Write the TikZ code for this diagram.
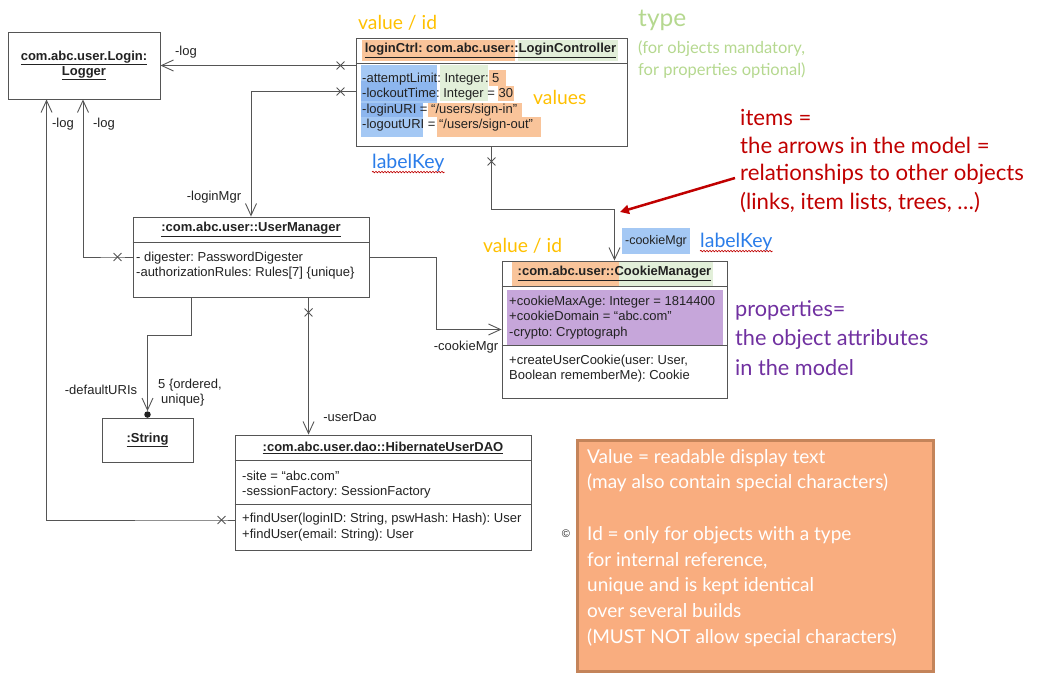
\documentclass[tikz,border=0pt]{standalone}
\usepackage{fontspec}
\setmainfont{Liberation Sans}
\newfontfamily\annot{Lato}
\usetikzlibrary{arrows.meta,calc,shapes.misc,decorations.pathmorphing}
\definecolor{lnc}{HTML}{555555}
\definecolor{umltext}{HTML}{222222}
\definecolor{hlor}{HTML}{F9C49A}
\definecolor{hlgr}{HTML}{E2EFD9}
\definecolor{hlbl}{HTML}{A4C8F4}
\definecolor{hlbl2}{HTML}{8DB6EE}
\definecolor{hlpu}{HTML}{C6A6DA}
\definecolor{tyel}{HTML}{FFC000}
\definecolor{tgrn}{HTML}{B5D88F}
\definecolor{tblu}{HTML}{2B7DE9}
\definecolor{tred}{HTML}{C00000}
\definecolor{tpur}{HTML}{7030A0}
\definecolor{notefill}{HTML}{F9AD7F}
\definecolor{notedraw}{HTML}{C4845A}
\begin{document}
\frenchspacing
\begin{tikzpicture}[x=1pt,y=-1pt,
  box/.style={draw=lnc, line width=0.9pt, fill=white, inner sep=0pt, rectangle},
  conn/.style={draw=lnc, line width=0.9pt},
  arr/.style={-{Straight Barb[length=12pt,width=11pt,line width=0.9pt]}},
  xmark/.style={cross out, draw=lnc, line width=0.9pt, minimum size=7pt, inner sep=0pt},
  uml/.style={font=\fontsize{13}{15.3}\selectfont, text=umltext, inner sep=0pt, align=left, anchor=north west},
  umltitle/.style={font=\fontsize{13}{15.3}\selectfont\bfseries, text=umltext, inner sep=0pt, align=center},
  lbl/.style={font=\fontsize{13}{15}\selectfont, text=umltext, inner sep=0pt},
  ann/.style={inner sep=0pt, anchor=west},
  sep/.style={draw=lnc, line width=0.9pt}
]
\useasboundingbox (0,0) rectangle (1039,688);

% ---------- boxes ----------
\node[box, minimum width=152pt, minimum height=67pt] (logger) at (84,65.5) {};
\node[box, minimum width=271pt, minimum height=108pt] (lc) at (491.5,92) {};
\node[box, minimum width=236pt, minimum height=80pt] (um) at (251,257) {};
\node[box, minimum width=225pt, minimum height=137pt] (cm) at (614.5,329.5) {};
\node[box, minimum width=91pt, minimum height=44pt] (str) at (147.5,440) {};
\node[box, minimum width=296pt, minimum height=115pt] (dao) at (383,492.5) {};

% ---------- highlights ----------
\fill[hlor] (362,40) rectangle (515,61);
\fill[hlgr] (518,40) rectangle (618,61);
\fill[hlbl] (361,65) rectangle (437,103);
\fill[hlbl] (361,103) rectangle (423,137);
\fill[hlbl2] (361,81) rectangle (437,101);
\fill[hlbl2] (361,103) rectangle (423,117);
\fill[hlgr] (440,65) rectangle (488,101);
\fill[hlor] (489,70) rectangle (506,86);
\fill[hlor] (498,86) rectangle (514,101);
\fill[hlor] (428,103) rectangle (522,117);
\fill[hlor] (437,117) rectangle (541,137);
\fill[hlor] (512,262) rectangle (619,286);
\fill[hlgr] (619,262) rectangle (713,286);
\fill[hlpu] (507,290) rectangle (723,346);

% ---------- separators ----------
\draw[sep] ($(lc.north west)+(0,26)$) -- ($(lc.north east)+(0,26)$);
\draw[sep] ($(um.north west)+(0,26)$) -- ($(um.north east)+(0,26)$);
\draw[sep] ($(cm.north west)+(0,26)$) -- ($(cm.north east)+(0,26)$);
\draw[sep] ($(cm.north west)+(0,85)$) -- ($(cm.north east)+(0,85)$);
\draw[sep] ($(dao.north west)+(0,26)$) -- ($(dao.north east)+(0,26)$);
\draw[sep] ($(dao.north west)+(0,70)$) -- ($(dao.north east)+(0,70)$);

% ---------- UML texts ----------
\node[umltitle] (loggerT) at (logger.center) {\underline{com.abc.user.Login:}\\\underline{Logger}};
\node[umltitle] (lcT) at ($(lc.north)+(-1,13)$) {\underline{loginCtrl: com.abc.user::LoginController}};
\node[uml] (lcA) at (362,73) {-attemptLimit: Integer: 5\\-lockoutTime: Integer = 30\\-loginURI = “/users/sign-in”\\-logoutURI = “/users/sign-out”};
\node[umltitle] (umT) at ($(um.north)+(0,13)$) {\underline{:com.abc.user::UserManager}};
\node[uml] (umA) at (136,252) {- digester: PasswordDigester\\-authorizationRules: Rules[7] \{unique\}};
\node[umltitle] (cmT) at ($(cm.north)+(0,13)$) {\underline{:com.abc.user::CookieManager}};
\node[uml] (cmA) at (509,296) {+cookieMaxAge: Integer = 1814400\\+cookieDomain = “abc.com”\\-crypto: Cryptograph};
\node[uml] (cmM) at (509,355) {+createUserCookie(user: User,\\Boolean rememberMe): Cookie};
\node[umltitle] (strT) at (str.center) {\underline{:String}};
\node[umltitle] (daoT) at ($(dao.north)+(0,13)$) {\underline{:com.abc.user.dao::HibernateUserDAO}};
\node[uml] (daoA) at (242,471) {-site = “abc.com”\\-sessionFactory: SessionFactory};
\node[uml, font=\fontsize{13}{15.8}\selectfont] (daoM) at (242,513) {+findUser(loginID: String, pswHash: Hash): User\\+findUser(email: String): User};

% ---------- connectors ----------
\draw[conn,arr] (lc.west |- logger.east) -- ++(-15,0) node[xmark] (x1) {} -- (logger.east);
\coordinate (lcL) at ($(lc.north west)+(0,54)$);
\draw[conn,arr] (lcL) -- ++(-15,0) node[xmark] (x2) {} -| (um.north);
\coordinate (lgA) at ($(logger.south)+(-1,0)$);
\draw[conn,arr] (um.west) -- ++(-15,0) node[xmark] (x3) {} -| (lgA);
\coordinate (daoL) at ($(dao.west)+(0,27.5)$);
\coordinate (lgB) at ($(logger.south west)+(39,0)$);
\draw[conn,arr] (daoL) -- ++(-13,0) node[xmark] (x4) {} -| (lgB);
\draw[conn,arr] (lc.south) -- ++(0,15) node[xmark] (x5) {} -- ++(0,48) -| (cm.north);
\draw[conn,arr] (um.east) -- ++(67,0) |- (cm.west);
\node[circle, fill=umltext, minimum size=6.5pt, inner sep=0pt] (dot) at ($(str.north)+(0,-3)$) {};
\coordinate (umS1) at ($(um.south west)+(59,0)$);
\draw[conn,arr] (umS1) -- ++(0,38) -| (dot.north);
\coordinate (umS2) at ($(um.south west)+(176,0)$);
\draw[conn,arr] (umS2) -- ++(0,15) node[xmark] (x6) {} -- (umS2 |- dao.north);

% ---------- connector labels ----------
\node[lbl] (l1) at (186,52) {-log};
\node[lbl] (l2) at (63,124) {-log};
\node[lbl] (l3) at (104,124) {-log};
\node[lbl] (l4) at (214,197) {-loginMgr};
\node[lbl] (l5) at (466,347) {-cookieMgr};
\node[lbl] (l6) at (101,390) {-defaultURIs};
\node[lbl, align=left, anchor=west] (l7) at (158,393) {5 \{ordered,\\\hspace{3pt}unique\}};
\node[lbl] (l8) at (350,417) {-userDao};
\node[lbl, fill=hlbl, font=\fontsize{12.5}{14}\selectfont, minimum width=68pt, minimum height=26pt] (l9) at (656,241) {-cookieMgr};
\node[lbl, font=\fontsize{11}{13}\selectfont] (copy) at (566,534) {©};

% ---------- annotations ----------
\node[ann, text=tyel, font=\annot\fontsize{19.3}{24}\selectfont] (vid1) at (358,23) {value / id};
\node[ann, text=tyel, font=\annot\fontsize{19.3}{24}\selectfont] (vid2) at (483,246) {value / id};
\node[ann, text=tyel, font=\annot\fontsize{19.3}{22}\selectfont] (vals) at (533,97) {values};
\node[ann, text=tgrn, font=\annot\fontsize{24.5}{26}\selectfont] (ty) at (638,20) {type};
\node[ann, text=tgrn, font=\annot\fontsize{16.5}{22}\selectfont, align=left] (ty2) at (638,60) {(for objects mandatory,\\for properties optional)};
\node[ann, text=tblu, font=\annot\fontsize{19.5}{22}\selectfont] (lk1) at (372,163) {labelKey};
\node[ann, text=tblu, font=\annot\fontsize{19.5}{22}\selectfont] (lk2) at (700,242) {labelKey};
\draw[tred, line width=0.6pt, decorate, decoration={snake, amplitude=0.8pt, segment length=3pt}] (lk1.south west) -- (lk1.south east);
\draw[tred, line width=0.6pt, decorate, decoration={snake, amplitude=0.8pt, segment length=3pt}] (lk2.south west) -- (lk2.south east);
\node[ann, text=tred, font=\annot\fontsize{22.2}{24}\selectfont] (r1) at (740,117) {items =};
\node[ann, text=tred, font=\annot\fontsize{22.2}{24}\selectfont] (r2) at (740,145) {the arrows in the model =};
\node[ann, text=tred, font=\annot\fontsize{22.2}{24}\selectfont] (r3) at (740,174) {relationships to other objects};
\node[ann, text=tred, font=\annot\fontsize{22.2}{24}\selectfont] (r4) at (740,203) {(links, item lists, trees, …)};
\coordinate (redtip) at (620,212);
\draw[tred, line width=2.5pt, -{Triangle[length=9pt,width=9pt]}] ([xshift=-5pt,yshift=-4pt]r3.west) -- (redtip);
\node[ann, text=tpur, font=\annot\fontsize{21.7}{24}\selectfont] (p1) at (735,310) {properties=};
\node[ann, text=tpur, font=\annot\fontsize{21.7}{24}\selectfont] (p2) at (735,339) {the object attributes};
\node[ann, text=tpur, font=\annot\fontsize{21.7}{24}\selectfont] (p3) at (735,368) {in the model};

% ---------- note ----------
\node[draw=notedraw, fill=notefill, line width=3pt, minimum width=356pt, minimum height=231pt, anchor=north west, inner sep=0pt] (note) at (576,439) {};
\node[inner sep=0pt, anchor=north west, align=left, text=white, font=\annot\fontsize{19}{25.7}\selectfont] (noteT) at (587,449) {Value = readable display text\\(may also contain special characters)\\[25.7pt]Id = only for objects with a type\\for internal reference,\\unique and is kept identical\\over several builds\\(MUST NOT allow special characters)};
\end{tikzpicture}
\end{document}
